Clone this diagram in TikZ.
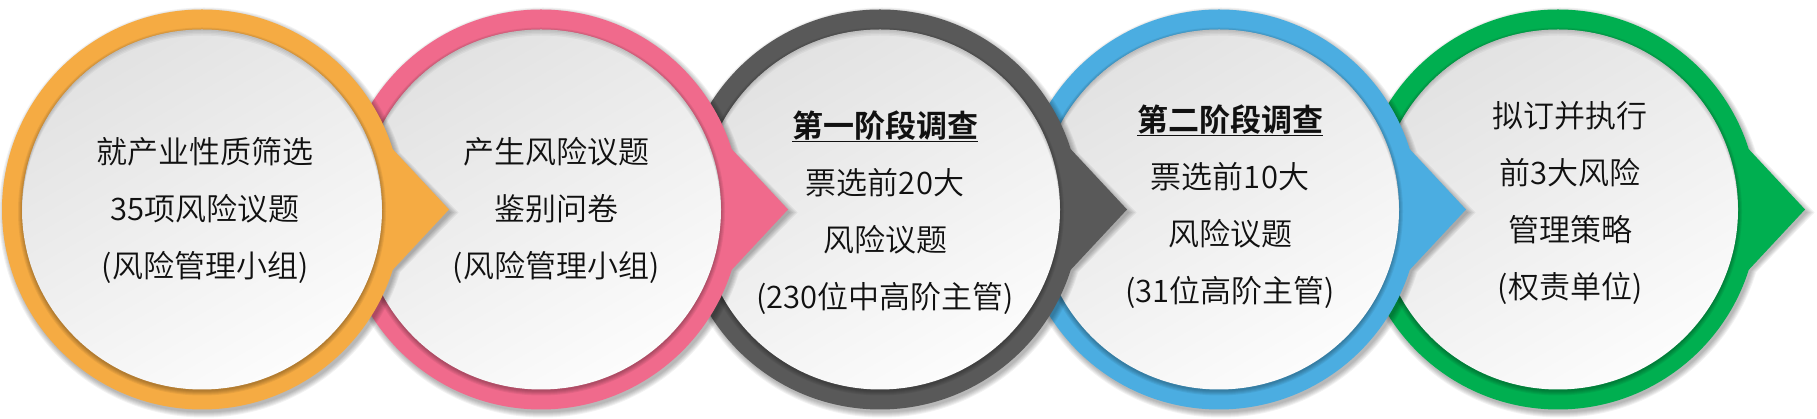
\documentclass[tikz,border=0pt]{standalone}
\usepackage{fontspec}
\setmainfont{Noto Sans CJK SC DemiLight}[BoldFont={Noto Sans CJK SC Bold}]
\definecolor{corange}{HTML}{F5AB43}
\definecolor{cpink}{HTML}{F06A8C}
\definecolor{cgray}{HTML}{595959}
\definecolor{cblue}{HTML}{4BADE1}
\definecolor{cgreen}{HTML}{00AF50}
\definecolor{diskdark}{HTML}{E2E2E2}
\definecolor{disklight}{HTML}{FCFCFC}
\definecolor{textcol}{HTML}{111111}
\tikzset{
  stagetext/.style={align=center, inner sep=0pt, text=textcol,
    font=\fontsize{31}{57}\selectfont},
}
% #1 centre x, #2 colour
\newcommand\stagering[2]{%
  \begin{scope}[shift={(#1,209.5)}]
    % soft drop shadow of ring + pointer
    \foreach \k in {0,...,5}{
      \fill[black,opacity=0.05] ({2},{-3}) circle[radius={200+\k}]
        ({249+1.5*\k},{-3}) -- ({150},{101+\k}) -- ({150},{-107-\k}) -- cycle;
    }
    % ring + pointer
    \fill[#2] (0,0) circle[radius=200]
      (247,0) -- (150,104) -- (150,-104) -- cycle;
    % shadow of the inner disk on the ring
    \foreach \k in {1,...,5}{
      \fill[black,opacity=0.06] (0,-2) circle[radius={179+\k}];
    }
    % inner disk
    \shade[top color=diskdark, bottom color=disklight, shading angle=30]
      (0,0) circle[radius=180];
    % inner shadow along the upper edge of the disk
    \begin{scope}
      \clip (0,0) circle[radius=180];
      \foreach \k in {1,...,4}{
        \fill[black,opacity=0.045,even odd rule] (0,0) circle[radius=220]
          (0,{-1.5*\k}) circle[radius=180];
      }
    \end{scope}
  \end{scope}}
\begin{document}
\begin{tikzpicture}[x=1pt,y=1pt]
  \useasboundingbox[fill=white] (0,0) rectangle (1817,419);
  \stagering{1558}{cgreen}
  \node[stagetext] (t5) at (1570,{419-203}) {拟订并执行\\前3大风险\\管理策略\\(权责单位)};
  \stagering{1219}{cblue}
  \node[stagetext] (t4) at (1230,{419-206.5}) {\underline{\textbf{第二阶段调查}}\\票选前10大\\风险议题\\(31位高阶主管)};
  \stagering{880}{cgray}
  \node[stagetext] (t3) at (885,{419-212.5}) {\underline{\textbf{第一阶段调查}}\\票选前20大\\风险议题\\(230位中高阶主管)};
  \stagering{541}{cpink}
  \node[stagetext] (t2) at (556,{419-210.7}) {产生风险议题\\鉴别问卷\\(风险管理小组)};
  \stagering{202}{corange}
  \node[stagetext] (t1) at (205,{419-210.7}) {就产业性质筛选\\35项风险议题\\(风险管理小组)};
\end{tikzpicture}
\end{document}
